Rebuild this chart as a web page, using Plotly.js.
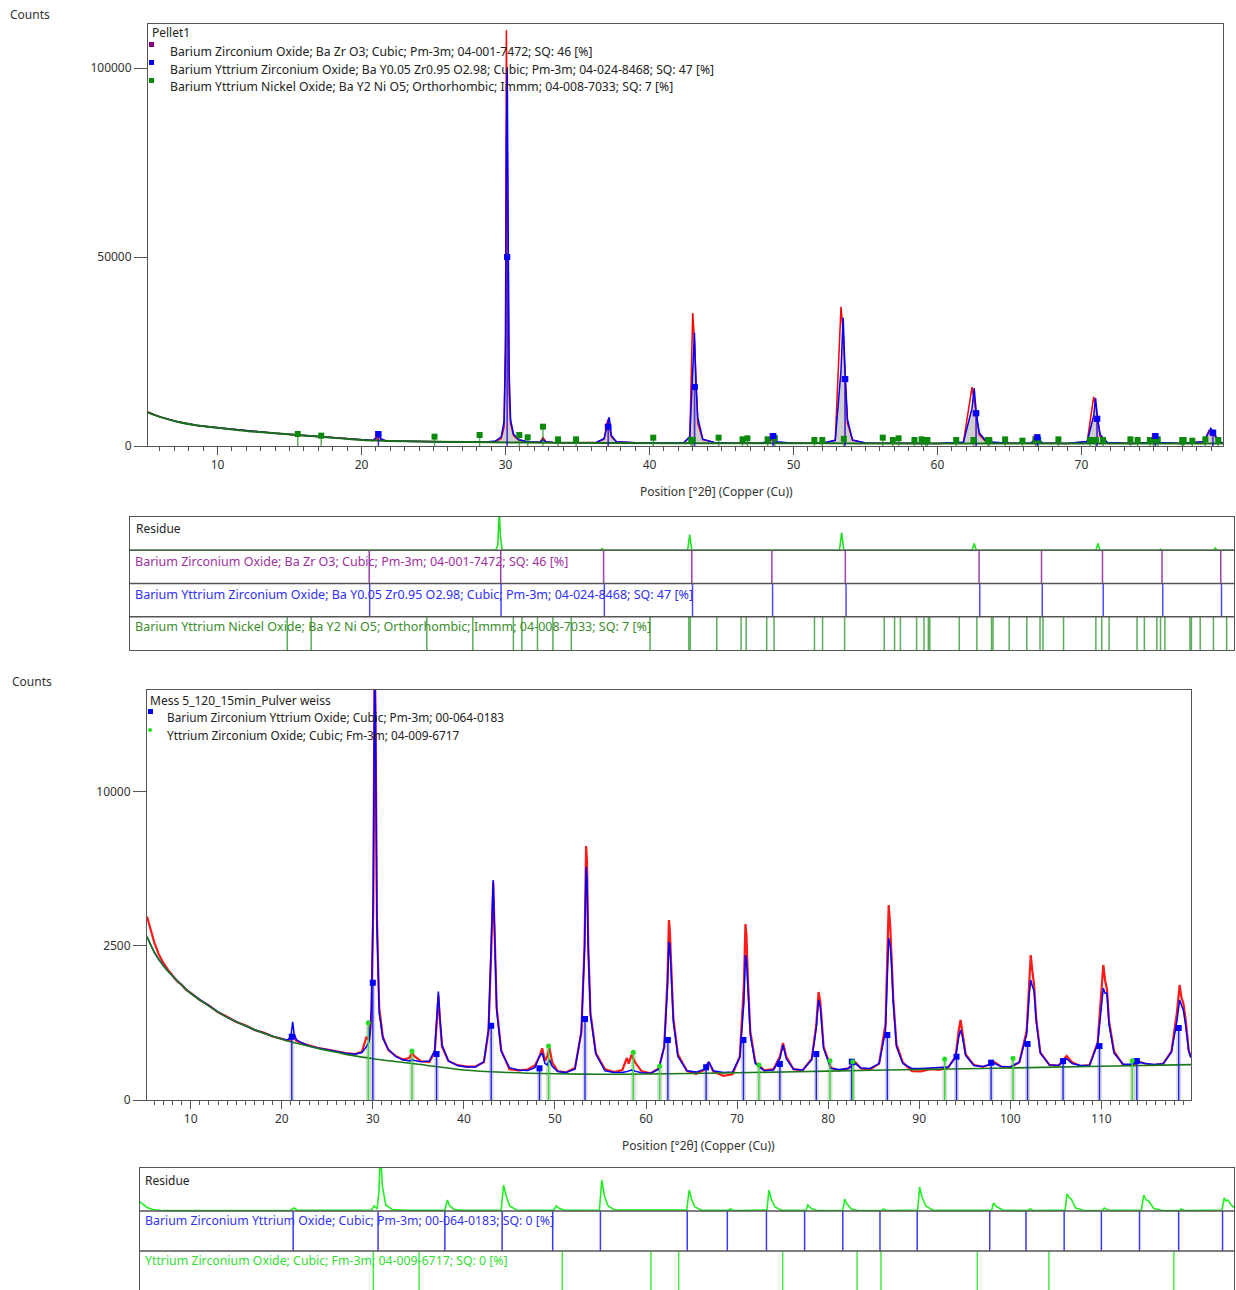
<!DOCTYPE html>
<html><head><meta charset="utf-8">
<script src="https://cdn.plot.ly/plotly-3.0.1.min.js"></script>
<style>body{margin:0;background:#fff}#chart{width:1236px;height:1290px}</style>
</head><body><div id="chart"></div>
<script>
// ================= TOP PATTERN: Pellet1 (counts) =================
const topX = [5.17,6.0,7.2,8.5,10,12,14,16,18,20,20.8,21.05,21.2,21.35,21.7,23,25,27,28.5,29.3,29.7,29.9,30.0,30.06,30.12,30.18,30.25,30.35,30.55,30.9,31.5,32.4,32.6,32.8,33.3,34.5,36.3,36.85,37.1,37.2,37.35,37.7,39,41,42.4,42.8,43.0,43.12,43.22,43.35,43.7,44.5,46,47.5,48.3,48.55,48.8,50,52,52.9,53.3,53.45,53.6,53.75,54.1,55,57,60,61.8,62.4,62.55,62.7,62.9,63.4,65,66.5,66.9,67.3,69,70.4,70.85,70.98,71.12,71.3,71.8,73.5,74.7,75.0,75.3,77,78.5,78.85,78.98,79.2,79.5,79.83];
const topObs = [9000,7700,6450,5480,4850,4000,3350,2800,2200,1560,1450,1900,2800,1700,1340,1260,1150,1060,1000,1200,2000,5000,30000,110000,80000,35000,14000,6000,2800,1600,1150,1000,2200,1200,920,880,900,1800,7000,5500,2400,1100,830,790,950,2500,35200,28000,16000,6000,1700,900,750,760,1000,1900,1000,730,720,1500,36800,30000,17000,6000,1500,800,700,690,1000,15600,12000,8000,3000,1000,700,800,1600,800,670,1200,13000,11000,7000,2500,900,680,900,2100,900,680,1200,4000,3500,3000,1200,800];
const topCalc = [8900,7700,6430,5500,4840,4000,3350,2800,2200,1560,1480,2400,3790,1900,1360,1260,1150,1060,1010,1300,2400,6500,25000,80000,100000,60000,20000,7000,3200,1700,1150,960,1700,1100,920,880,920,2000,6500,7600,2800,1150,830,790,950,2500,22000,30000,17000,7500,1800,920,760,760,1000,2650,1100,730,720,1500,20000,33900,18000,7000,1600,800,700,690,1000,10000,15300,8650,3500,1100,700,800,2300,800,670,1200,8000,12700,7200,3000,950,680,900,2650,950,680,1100,3500,4680,3520,1300,800];
const topBgX = [5.17,6,7.2,8.5,10,12,14,16,18,20,22,25,29,33,37,42,48,55,62,70,79.83];
const topBgY = [8900,7700,6430,5500,4840,4000,3350,2800,2200,1560,1350,1150,980,880,820,760,720,690,670,650,640];
// reference phases (top)
const bzoPos  = [21.15,30.1,37.1,43.1,48.55,53.55,62.65,66.9,71.05,75.1,79.1];
const bzoMark = [3170,50000,5100,15600,2650,17700,8650,2300,7200,2650,3520];
const byzPos  = [21.18,30.12,37.15,43.15,48.6,53.6,62.7,66.95,71.1,75.15,79.15];
const byzMark = [3170,50000,5100,15600,2650,17700,8650,2300,7200,2650,3520];
const bynPos  = [15.57,17.2,25.07,28.2,30.96,31.54,32.6,33.65,34.9,40.26,42.9,43.0,44.8,46.46,46.8,48.2,48.7,51.45,52.0,53.5,56.2,56.9,57.3,58.4,58.9,59.2,59.3,61.3,62.5,63.5,63.6,64.7,65.9,66.8,67.0,68.4,70.6,71.0,71.5,73.4,73.9,74.75,75.0,75.3,77.0,77.1,77.7,78.6,79.5];
const bynMark = [3170,2730,2470,2910,2910,2290,5110,1760,1760,2200,1600,1600,2200,1760,2030,1760,2100,1590,1590,1900,2200,1590,2030,1590,1760,1590,1590,1590,1590,1590,1590,1760,1410,1760,1590,1760,1590,1590,1590,1760,1590,1590,1590,1760,1590,1590,1410,1760,1590];
const topResX = [4.87,29.75,29.9,30.0,30.08,30.2,36.9,37.0,37.12,42.82,42.96,43.1,53.15,53.3,53.45,62.18,62.32,62.46,70.6,70.74,70.88,74.9,75.0,75.1,78.6,78.72,78.85,80.0];
const topResY = [0,0,1500,12000,4000,0,0,500,0,0,4700,0,0,5300,0,0,2000,0,0,2000,0,0,300,0,0,700,0,0];
const TOP_RES_ROW = 10000;

// ================= BOTTOM PATTERN: Mess 5_120_15min (counts, sqrt axis) =================
const botX = [5.2,5.6,6.0,6.5,7.0,7.5,8.0,8.5,9.0,9.5,
10,11,12,13,14,15,16,17,18,19,
20,20.6,21.0,21.2,21.35,21.6,22.2,23,24,25,
26,27,28,28.8,29.3,29.6,29.85,30.05,30.2,30.3,
30.45,30.7,31.1,31.7,32.5,33.3,34.0,34.3,34.6,35.3,
36.2,36.8,37.05,37.2,37.35,37.6,38.3,39.3,40.3,41.3,
42.2,42.7,43.0,43.12,43.22,43.35,43.6,44.1,45,46,
47,47.8,48.3,48.6,48.9,49.15,49.4,49.7,50.3,51.2,
52.2,52.9,53.25,53.42,53.52,53.65,53.9,54.5,55.5,56.5,
57.4,57.9,58.1,58.4,58.8,59.5,60.5,61.4,62.0,62.35,
62.52,62.62,62.78,63.0,63.5,64.5,65.5,66.4,66.9,67.4,
68.5,69.5,70.3,70.75,70.92,71.02,71.2,71.45,72.0,73.0,
74.0,74.7,75.05,75.4,76.2,77.2,78.2,78.7,78.95,79.15,
79.5,80.3,81.2,82.2,83.0,83.6,84.6,85.6,86.3,86.65,
86.82,86.95,87.15,87.5,88.2,89.2,90.2,91.2,92.2,93.2,
94.0,94.35,94.55,94.75,95.1,96,97,98.3,99,100,
101,101.8,102.1,102.25,102.45,102.62,102.85,103.3,104.3,105.3,
106.2,106.8,107.7,108.7,109.6,110.05,110.22,110.42,110.62,110.85,
111.4,112.4,113.4,114.2,114.8,115.8,116.8,117.7,118.3,118.6,
118.8,119.0,119.25,119.6,119.85];
const botObs = [3550,3050,2620,2230,1980,1790,1650,1490,1400,1280,
1210,1050,945,810,730,640,590,515,478,425,
395,372,385,440,420,368,340,312,285,268,
246,232,222,245,420,380,700,4000,21000,16000,
3500,900,420,262,205,172,185,232,200,158,
152,240,700,1150,720,300,160,128,117,120,
150,500,2300,4400,5000,3300,900,260,100,92,
98,125,200,282,160,200,282,150,88,80,
110,480,2500,6800,6000,2600,800,230,100,82,
95,186,140,215,150,88,75,105,300,1500,
3415,3000,1800,700,220,88,72,95,152,85,
62,70,200,1400,3265,2900,1500,500,150,92,
100,200,343,200,100,92,180,600,1229,1000,
300,110,92,105,150,105,98,140,600,4009,
3200,2200,1100,330,150,88,86,100,96,112,
200,520,675,480,220,130,115,150,118,112,
150,500,1500,2216,1700,1400,700,240,130,125,
204,150,122,128,350,1500,1921,1500,1300,650,
250,130,128,152,140,128,140,250,800,1394,
1100,1000,700,260,190];
const botCalc = [2800,2550,2300,2080,1900,1750,1620,1500,1390,1290,
1200,1060,930,820,720,645,580,520,470,430,
392,378,420,642,470,385,345,308,284,264,
246,230,220,238,300,360,900,4500,20000,14000,
3200,800,400,270,200,170,160,170,165,155,
160,260,800,1238,750,320,160,125,115,115,
155,520,2600,4700,5100,3200,850,250,110,95,
92,110,200,233,140,130,170,120,85,80,
100,500,2400,5735,5200,2400,750,220,90,80,
80,85,90,95,88,78,75,100,300,1300,
2630,2500,1600,650,200,90,82,100,152,90,
80,83,190,1000,2218,2100,1300,450,140,90,
95,180,319,180,100,95,170,550,1054,900,
280,105,98,105,140,108,105,140,500,2767,
2500,2000,1000,300,140,105,104,106,108,115,
190,420,516,420,210,125,118,140,118,115,
150,450,1200,1518,1350,1250,650,230,130,125,
180,140,125,125,330,1100,1322,1200,1200,600,
230,135,135,150,140,132,138,240,650,1054,
950,854,600,250,190];
const botBgX = [5.2,6,7,8,9,10,12,14,16,18,20,22,24,26,28,30,32,35,40,45,50,55,60,65,70,80,90,100,110,119.85];
const botBgY = [2820,2300,1900,1620,1390,1200,930,720,580,470,390,330,280,240,205,180,160,135,95,80,73,70,71,74,78,88,98,108,120,132];
const bzyPos  = [21.1,30.0,37.0,43.0,48.3,53.3,62.4,66.6,70.7,74.7,78.7,82.6,86.5,94.1,97.9,101.9,105.8,109.8,113.9,118.5];
const bzyMark = [422,1450,223,581,106,692,380,113,380,137,223,155,445,198,147,331,160,307,160,546];
const yzoPos  = [29.5,34.3,49.3,58.6,61.5,72.4,80.2,82.7,92.8,100.3,113.4];
const yzoMark = [630,253,307,240,122,129,163,155,177,183,163];
const botResX = [5.05,5.4,5.8,6.3,7.0,8.0,12,20.8,21.2,21.6,29.3,29.6,29.9,30.1,30.24,30.45,30.8,31.5,33,37.0,37.27,37.5,38.0,38.8,42.9,43.15,43.4,43.8,44.5,48.4,48.68,49.0,49.6,53.2,53.44,53.7,54.1,54.8,62.35,62.6,62.85,63.2,63.9,66.7,66.9,67.3,70.75,70.96,71.2,71.6,72.3,74.85,75.03,75.4,76.0,78.7,78.9,79.15,79.6,80.3,82.8,82.95,83.3,86.55,86.75,87.0,87.4,88.2,94.3,94.49,94.8,95.5,98.1,98.33,98.7,102.0,102.19,102.45,102.65,103.1,104,105.9,106.1,106.5,110.0,110.24,110.5,110.75,111.3,112.2,114.0,114.15,114.5,118.45,118.67,118.85,119.05,119.4,119.9];
const botResY = [900,600,350,180,80,40,60,60,300,60,100,500,200,2000,6000,2500,600,150,80,80,1100,500,150,60,100,2600,1600,500,100,80,500,250,80,100,3100,1600,500,100,100,2100,1200,400,80,60,200,50,100,2100,1200,400,60,60,600,250,50,80,1200,700,200,50,50,200,50,100,2400,1400,500,60,80,800,450,80,50,200,50,100,1700,1300,1200,300,50,50,300,80,100,1600,1100,1000,250,50,50,200,50,100,1300,1000,1100,600,200];
const BOT_RES_UNIT = 100;

// ================= helpers =================
const W = 1236, H = 1290;
const px = v => v / W, py = v => 1 - v / H;
const sq = a => a.map(v => Math.sqrt(v));
function stems(pos, top, base) {
  const x = [], y = [];
  pos.forEach((p, i) => { x.push(p, p, null); y.push(base, top[i], null); });
  return {x, y};
}
function sticks(pos, y0, y1) {
  const x = [], y = [];
  pos.forEach(p => { x.push(p, p, null); y.push(y0, y1, null); });
  return {x, y};
}
const L = (o) => Object.assign({type:'scatter', mode:'lines', hoverinfo:'skip', showlegend:false}, o);

const traces = [];
// ---- top main ----
traces.push(L({x: topBgX, y: topBgY, xaxis:'x', yaxis:'y', line:{width:0, color:'rgba(0,0,0,0)'}}));
traces.push(L({x: topX, y: topCalc, xaxis:'x', yaxis:'y', fill:'tonexty', fillcolor:'rgba(190,190,190,0.75)', line:{width:0, color:'rgba(0,0,0,0)'}}));
traces.push(L({x: topX, y: topObs, xaxis:'x', yaxis:'y', line:{color:'#ff0000', width:1.5}}));
traces.push(L({x: topX, y: topCalc, xaxis:'x', yaxis:'y', line:{color:'#0000ff', width:1.5}}));
traces.push(L({x: topBgX, y: topBgY, xaxis:'x', yaxis:'y', line:{color:'#1a6e1a', width:2, shape:'spline'}}));
let s = stems(bynPos, bynMark, 0);
traces.push(L({x: s.x, y: s.y, xaxis:'x', yaxis:'y', line:{color:'rgba(20,130,20,0.65)', width:1.5}}));
s = stems(bzoPos, bzoMark, 0);
traces.push(L({x: s.x, y: s.y, xaxis:'x', yaxis:'y', line:{color:'rgba(128,0,128,0.6)', width:1.2}}));
s = stems(byzPos, byzMark, 0);
traces.push(L({x: s.x, y: s.y, xaxis:'x', yaxis:'y', line:{color:'rgba(0,0,255,0.7)', width:1.2}}));
traces.push({type:'scatter', mode:'markers', x: bynPos, y: bynMark, xaxis:'x', yaxis:'y', showlegend:false, marker:{symbol:'square', size:6, color:'#0a8a0a'}});
traces.push({type:'scatter', mode:'markers', x: bzoPos, y: bzoMark, xaxis:'x', yaxis:'y', showlegend:false, marker:{symbol:'square', size:6, color:'#800080'}});
traces.push({type:'scatter', mode:'markers', x: byzPos, y: byzMark, xaxis:'x', yaxis:'y', showlegend:false, marker:{symbol:'square', size:6, color:'#0000ff'}});

// ---- top residue panel (rows: 3-4 residue, 2-3 BaZrO3, 1-2 BaYZrO, 0-1 BaY2NiO5) ----
s = sticks(bzoPos, 2, 3);
traces.push(L({x: s.x, y: s.y, xaxis:'x2', yaxis:'y2', line:{color:'#a040a8', width:1.5}}));
s = sticks(byzPos, 1, 2);
traces.push(L({x: s.x, y: s.y, xaxis:'x2', yaxis:'y2', line:{color:'#4a4aff', width:1.5}}));
s = sticks(bynPos, 0, 1);
traces.push(L({x: s.x, y: s.y, xaxis:'x2', yaxis:'y2', line:{color:'rgba(20,140,20,0.7)', width:1.5}}));
traces.push(L({x: topResX, y: topResY.map(r => 3 + r / TOP_RES_ROW), xaxis:'x2', yaxis:'y2', line:{color:'#22e022', width:1.6}}));

// ---- bottom main (sqrt scale) ----
s = stems(bzyPos, sq(bzyMark), 0);
traces.push(L({x: s.x, y: s.y, xaxis:'x3', yaxis:'y3', line:{color:'rgba(150,150,150,0.35)', width:5}}));
const ys = stems(yzoPos, sq(yzoMark), 0);
traces.push(L({x: ys.x, y: ys.y, xaxis:'x3', yaxis:'y3', line:{color:'rgba(150,150,150,0.35)', width:5}}));
traces.push(L({x: botX, y: sq(botObs), xaxis:'x3', yaxis:'y3', line:{color:'#ff1a1a', width:2.2}}));
traces.push(L({x: botX, y: sq(botCalc), xaxis:'x3', yaxis:'y3', line:{color:'#0000ff', width:1.5}}));
traces.push(L({x: botBgX, y: sq(botBgY), xaxis:'x3', yaxis:'y3', line:{color:'#1a7a1a', width:1.6, shape:'spline'}}));
traces.push(L({x: s.x, y: s.y, xaxis:'x3', yaxis:'y3', line:{color:'#2020ff', width:1.4}}));
traces.push(L({x: ys.x, y: ys.y, xaxis:'x3', yaxis:'y3', line:{color:'#30e030', width:1.4}}));
traces.push({type:'scatter', mode:'markers', x: bzyPos, y: sq(bzyMark), xaxis:'x3', yaxis:'y3', showlegend:false, marker:{symbol:'square', size:6, color:'#0000ff'}});
traces.push({type:'scatter', mode:'markers', x: yzoPos, y: sq(yzoMark), xaxis:'x3', yaxis:'y3', showlegend:false, marker:{symbol:'circle', size:5, color:'#22dd22'}});

// ---- bottom residue panel (rows: 79-122 residue, 39-79 BZYO, 0-39 YZO) ----
s = sticks(bzyPos, 39, 79);
traces.push(L({x: s.x, y: s.y, xaxis:'x4', yaxis:'y4', line:{color:'#3a3aff', width:1.5}}));
s = sticks(yzoPos, 0, 39);
traces.push(L({x: s.x, y: s.y, xaxis:'x4', yaxis:'y4', line:{color:'#44ee44', width:1.5}}));
traces.push(L({x: botResX, y: botResY.map(r => 79 + r / BOT_RES_UNIT), xaxis:'x4', yaxis:'y4', line:{color:'#22ee22', width:1.6}}));

// ================= layout =================
const axLine = {showline:true, mirror:true, linecolor:'#555', linewidth:1, showgrid:false, zeroline:false};
const tickFont = {size:12, color:'#333'};
const layout = {
  width: W, height: H, margin:{l:0, r:0, t:0, b:0},
  paper_bgcolor:'#fff', plot_bgcolor:'#fff', showlegend:false,
  font:{family:'Noto Sans, sans-serif', size:11, color:'#333'},
  xaxis: Object.assign({}, axLine, {domain:[px(148), px(1223)], range:[5.17, 79.83], anchor:'y',
    ticks:'outside', ticklen:8, tickcolor:'#555', tick0:0, dtick:10, tickfont:tickFont,
    minor:{dtick:1, tick0:0, ticks:'outside', ticklen:4, tickcolor:'#555'}}),
  yaxis: Object.assign({}, axLine, {domain:[py(446), py(24)], range:[0, 111640], anchor:'x',
    ticks:'outside', ticklen:13, tickcolor:'#555', tickvals:[0, 50000, 100000], ticktext:['0','50000','100000'], tickfont:tickFont}),
  xaxis2: Object.assign({}, axLine, {domain:[px(130), px(1234)], range:[4.87, 80.0], anchor:'y2', showticklabels:false, ticks:''}),
  yaxis2: Object.assign({}, axLine, {domain:[py(650), py(517)], range:[0, 4], anchor:'x2', showticklabels:false, ticks:''}),
  xaxis3: Object.assign({}, axLine, {domain:[px(147), px(1191)], range:[5.2, 119.85], anchor:'y3',
    ticks:'outside', ticklen:8, tickcolor:'#555', tick0:0, dtick:10, tickfont:tickFont,
    minor:{dtick:1, tick0:0, ticks:'outside', ticklen:4, tickcolor:'#555'}}),
  yaxis3: Object.assign({}, axLine, {domain:[py(1100), py(690)], range:[0, 133.1], anchor:'x3',
    ticks:'outside', ticklen:13, tickcolor:'#555', tickvals:[0, 50, 100], ticktext:['0','2500','10000'], tickfont:tickFont}),
  xaxis4: Object.assign({}, axLine, {domain:[px(140), px(1234)], range:[5.05, 119.7], anchor:'y4', showticklabels:false, ticks:''}),
  yaxis4: Object.assign({}, axLine, {domain:[0, py(1168)], range:[0, 122], anchor:'x4', showticklabels:false, ticks:''}),
  shapes: [
    {type:'line', xref:'x2 domain', yref:'y2', x0:0, x1:1, y0:1, y1:1, line:{color:'#555', width:1.5}},
    {type:'line', xref:'x2 domain', yref:'y2', x0:0, x1:1, y0:2, y1:2, line:{color:'#555', width:1.5}},
    {type:'line', xref:'x2 domain', yref:'y2', x0:0, x1:1, y0:3, y1:3, line:{color:'#555', width:1.5}},
    {type:'line', xref:'x4 domain', yref:'y4', x0:0, x1:1, y0:39, y1:39, line:{color:'#555', width:1.5}},
    {type:'line', xref:'x4 domain', yref:'y4', x0:0, x1:1, y0:79, y1:79, line:{color:'#555', width:1.5}},
    // legend symbols
    {type:'rect', xref:'paper', yref:'paper', x0:px(149), x1:px(154), y0:py(47), y1:py(42), fillcolor:'#800080', line:{width:0}},
    {type:'rect', xref:'paper', yref:'paper', x0:px(149), x1:px(154), y0:py(65), y1:py(60), fillcolor:'#0000ff', line:{width:0}},
    {type:'rect', xref:'paper', yref:'paper', x0:px(149), x1:px(154), y0:py(83), y1:py(78), fillcolor:'#0a8a0a', line:{width:0}},
    {type:'rect', xref:'paper', yref:'paper', x0:px(148), x1:px(153), y0:py(714), y1:py(709), fillcolor:'#0000ff', line:{width:0}},
    {type:'circle', xref:'paper', yref:'paper', x0:px(148), x1:px(152), y0:py(732), y1:py(728), fillcolor:'#22dd22', line:{width:0}}
  ],
  annotations: []
};
function ann(text, x, y, opts) {
  layout.annotations.push(Object.assign({text, x:px(x), y:py(y), xref:'paper', yref:'paper', showarrow:false,
    xanchor:'left', yanchor:'middle', font:{size:12, color:'#222'}}, opts || {}));
}
ann('Counts', 8, 14, {font:{size:12, color:'#333'}});
ann('Counts', 10, 681, {font:{size:12, color:'#333'}});
ann('Pellet1', 150, 33);
ann('Barium Zirconium Oxide; Ba Zr O3; Cubic; Pm-3m; 04-001-7472; SQ: 46 [%]', 168, 51, {font:{size:12.2, color:'#222'}});
ann('Barium Yttrium Zirconium Oxide; Ba Y0.05 Zr0.95 O2.98; Cubic; Pm-3m; 04-024-8468; SQ: 47 [%]', 168, 69, {font:{size:12.2, color:'#222'}});
ann('Barium Yttrium Nickel Oxide; Ba Y2 Ni O5; Orthorhombic; Immm; 04-008-7033; SQ: 7 [%]', 168, 87, {font:{size:12.2, color:'#222'}});
ann('Position [°2θ] (Copper (Cu))', 716, 492, {xanchor:'center', font:{size:12, color:'#333'}});
ann('Residue', 134, 528);
ann('Barium Zirconium Oxide; Ba Zr O3; Cubic; Pm-3m; 04-001-7472; SQ: 46 [%]', 133, 561, {font:{size:12.5, color:'#a030a0'}});
ann('Barium Yttrium Zirconium Oxide; Ba Y0.05 Zr0.95 O2.98; Cubic; Pm-3m; 04-024-8468; SQ: 47 [%]', 133, 594, {font:{size:12.5, color:'#3030ff'}});
ann('Barium Yttrium Nickel Oxide; Ba Y2 Ni O5; Orthorhombic; Immm; 04-008-7033; SQ: 7 [%]', 133, 626, {font:{size:12.5, color:'#3c8c2c'}});
ann('Mess 5_120_15min_Pulver weiss', 148, 700);
ann('Barium Zirconium Yttrium Oxide; Cubic; Pm-3m; 00-064-0183', 165, 717, {font:{size:11.8, color:'#222'}});
ann('Yttrium Zirconium Oxide; Cubic; Fm-3m; 04-009-6717', 165, 735, {font:{size:11.8, color:'#222'}});
ann('Position [°2θ] (Copper (Cu))', 698, 1145, {xanchor:'center', font:{size:12, color:'#333'}});
ann('Residue', 143, 1180);
ann('Barium Zirconium Yttrium Oxide; Cubic; Pm-3m; 00-064-0183; SQ: 0 [%]', 143, 1220, {font:{size:12.3, color:'#3333ee'}});
ann('Yttrium Zirconium Oxide; Cubic; Fm-3m; 04-009-6717; SQ: 0 [%]', 143, 1260, {font:{size:12.3, color:'#33dd33'}});

Plotly.newPlot('chart', traces, layout, {displayModeBar:false, staticPlot:true});
</script>
</body></html>
